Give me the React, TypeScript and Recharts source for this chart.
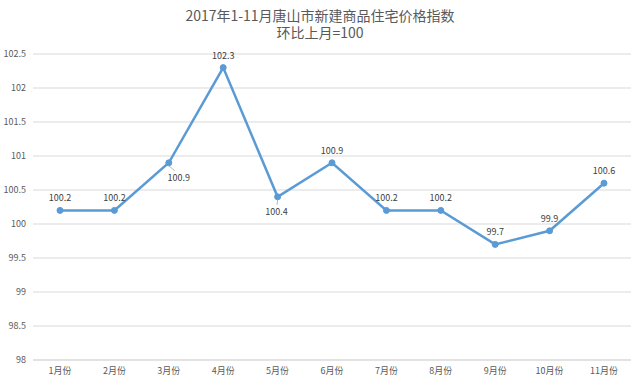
import React from 'react';
import { LineChart, Line, XAxis, YAxis, CartesianGrid, LabelList } from 'recharts';

const months = ['1月份', '2月份', '3月份', '4月份', '5月份', '6月份', '7月份', '8月份', '9月份', '10月份', '11月份'];
const values = [100.2, 100.2, 100.9, 102.3, 100.4, 100.9, 100.2, 100.2, 99.7, 99.9, 100.6];
const yTicks = [98, 98.5, 99, 99.5, 100, 100.5, 101, 101.5, 102, 102.5];
const belowLabels = [2, 4];

const data = months.map((m, i) => ({ month: m, value: values[i] }));

const renderLabel = (props: any) => {
  const { x, y, value, index } = props;
  if (belowLabels.includes(index)) {
    const dx = index === 2 ? 10 : -1;
    const dy = 14;
    return (
      <g>
        <line x1={x} y1={y + 3} x2={x + dx * 0.6} y2={y + dy - 6} stroke="#a6a6a6" strokeWidth={0.8} />
        <text x={x + dx} y={y + dy} dy={4} textAnchor="middle" fontSize={9} fill="#404040">{value}</text>
      </g>
    );
  }
  return (
    <text x={x} y={y - 12} dy={3} textAnchor="middle" fontSize={9} fill="#404040">{value}</text>
  );
};

export default function App() {
  return (
    <div style={{ position: 'absolute', left: 0, top: 0, width: 640, height: 384, background: '#fff', fontFamily: '"Noto Sans CJK SC", sans-serif' }}>
      <div style={{ position: 'absolute', top: 7, width: 640, textAlign: 'center', fontSize: 14, color: '#595959', lineHeight: '16px' }}>
        2017年1-11月唐山市新建商品住宅价格指数
      </div>
      <div style={{ position: 'absolute', top: 24, width: 640, textAlign: 'center', fontSize: 14, color: '#595959', lineHeight: '16px' }}>
        环比上月=100
      </div>
      <LineChart width={640} height={384} data={data} margin={{ top: 54, right: 9, bottom: 0, left: 0 }} style={{ position: 'absolute', left: 0, top: 0 }}>
        <CartesianGrid vertical={false} stroke="#d9d9d9" strokeWidth={1} />
        <XAxis dataKey="month" height={24} padding={{ left: 27, right: 27 }} axisLine={{ stroke: '#d9d9d9' }} tickLine={false} tickSize={0} tickMargin={8} tick={{ fontSize: 9, fill: '#595959' }} interval={0} />
        <YAxis width={33} domain={[98, 102.5]} ticks={yTicks} axisLine={false} tickLine={false} tickSize={0} tickMargin={7} tick={{ fontSize: 9, fill: '#595959' }} interval={0} />
        <Line type="linear" dataKey="value" stroke="#5b9bd5" strokeWidth={2.5} dot={{ r: 3, fill: '#5b9bd5', stroke: '#5b9bd5', strokeWidth: 1 }} isAnimationActive={false}>
          <LabelList dataKey="value" content={renderLabel} />
        </Line>
      </LineChart>
    </div>
  );
}
